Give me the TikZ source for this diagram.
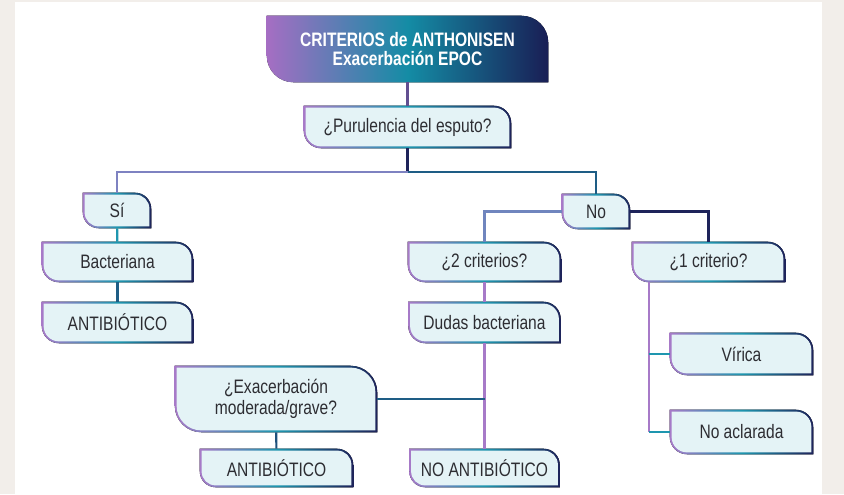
\documentclass[tikz,border=0pt]{standalone}
\usepackage{fontspec}
\setmainfont{Liberation Sans}[FakeStretch=0.8]
\usetikzlibrary{backgrounds, calc}
\definecolor{epurple}{RGB}{167, 122, 200}
\definecolor{eteal}{RGB}{30, 150, 175}
\definecolor{enavy}{RGB}{30, 35, 90}
\definecolor{efill}{RGB}{228, 243, 246}
\definecolor{etext}{RGB}{45, 45, 50}
\definecolor{ebeige}{RGB}{242, 238, 234}
\definecolor{tpurple}{RGB}{165, 110, 195}
\definecolor{tteal}{RGB}{20, 140, 165}
\definecolor{tnavy}{RGB}{25, 30, 85}

% outline with square NW/SE corners and round NE/SW corners
\newcommand{\eoutline}[3]{%
  ([shift={(#2,-#2)}]#1.north west) -- ([shift={(-#3,-#2)}]#1.north east)
  arc[start angle=90, end angle=0, radius=#3-#2]
  -- ([shift={(-#2,#2)}]#1.south east) -- ([shift={(#3,#2)}]#1.south west)
  arc[start angle=270, end angle=180, radius=#3-#2] -- cycle}
\newcommand{\eshape}[2]{%
  \fill[left color=epurple, right color=enavy, middle color=eteal] \eoutline{#1}{0pt}{#2};
  \fill[efill] \eoutline{#1}{1.4pt}{#2};}

\begin{document}
\begin{tikzpicture}[
  x=0.75pt, y=0.75pt,
  ebox/.style={minimum width=114.75pt, minimum height=30pt, inner sep=0pt,
    text=etext, align=center, font=\fontsize{14.6}{15.5}\selectfont},
  etitle/.style={minimum width=210.75pt, minimum height=49.5pt, inner sep=0pt,
    text=white, align=center, font=\fontsize{14.6}{14.5}\selectfont\bfseries},
  elink/.style={line width=1.6pt}
]
  \useasboundingbox (0,0) rectangle (844,-494);

  % Title
  \node[etitle] (title) at (407.5,-49) {CRITERIOS de ANTHONISEN\\Exacerbación EPOC};
  \node[ebox, minimum width=155.25pt, minimum height=31.5pt] (puru) at (407.5,-127) {¿Purulencia del esputo?};

  % Left branch
  \node[ebox, minimum width=51pt, minimum height=26.25pt] (si) at (117,-210.5) {Sí};
  \node[ebox, minimum width=113.25pt] (bact) at (117.5,-262) {Bacteriana};
  \node[ebox, minimum width=113.25pt, minimum height=30.75pt] (anti1) at (117.5,-322.5) {ANTIBIÓTICO};

  % Right branch
  \node[ebox, minimum width=51pt, minimum height=26.25pt] (no) at (596,-211.5) {No};
  \node[ebox] (crit2) at (484.5,-262) {¿2 criterios?};
  \node[ebox] (crit1) at (708.5,-262) {¿1 criterio?};
  \node[ebox, minimum width=114pt, minimum height=30.75pt] (dudas) at (484.5,-322.5) {Dudas bacteriana};
  \node[ebox, minimum width=151.5pt, minimum height=49.5pt] (exac) at (276,-399) {¿Exacerbación\\moderada/grave?};
  \node[ebox, minimum height=28.5pt] (anti2) at (276.5,-468) {ANTIBIÓTICO};
  \node[ebox, minimum width=112.5pt, minimum height=28.5pt] (noanti) at (484.5,-468) {NO ANTIBIÓTICO};
  \node[ebox, minimum width=107.25pt, minimum height=31.5pt] (virica) at (741.5,-354) {Vírica};
  \node[ebox, minimum width=107.25pt, minimum height=33pt] (noacl) at (741.5,-432) {No aclarada};

  % Background and box shapes
  \begin{scope}[on background layer]
    \fill[ebeige] (0,0) rectangle (844,-494);
    \fill[white] (15,-2) rectangle (822,-494);
    \fill[left color=tpurple, right color=tnavy, middle color=tteal] \eoutline{title}{0pt}{20pt};
    \foreach \n/\r in {puru/13pt, si/12pt, bact/13pt, anti1/13pt, no/12pt, crit2/13pt,
      crit1/13pt, dudas/13pt, exac/20pt, anti2/12pt, noanti/12pt, virica/13pt, noacl/13pt}
      \eshape{\n}{\r};
  \end{scope}

  % Connectors
  \coordinate (j1) at (407.5,-172);
  \coordinate (j2) at (exac.east -| dudas.south);
  \coordinate (c1foot) at ([xshift=12.75pt]crit1.south west);
  \coordinate (c1end) at (c1foot |- noacl);

  \draw[elink, epurple!50!enavy] (title) -- (puru);
  \draw[elink, enavy] (puru) -- (j1);
  \draw[elink, epurple!70!eteal] (si) |- (j1);
  \draw[elink, eteal!50!enavy] (no) |- (j1);
  \draw[elink, eteal] (si) -- (bact);
  \draw[elink, eteal!50!enavy] (bact) -- (anti1);
  \draw[elink, epurple!60!eteal] (no) -| (crit2);
  \draw[elink, enavy] (no) -| (crit1);
  \draw[elink, epurple] (crit2) -- (dudas);
  \draw[elink, epurple] (dudas) -- (noanti);
  \draw[elink, eteal!50!enavy] (exac) -- (j2);
  \draw[elink, eteal!40!enavy] (exac) -- (anti2);
  \draw[elink, epurple] (c1foot) -- (c1end);
  \draw[elink, eteal] (c1end) -- (noacl);
  \draw[elink, eteal] (c1foot |- virica) -- (virica);
\end{tikzpicture}
\end{document}
